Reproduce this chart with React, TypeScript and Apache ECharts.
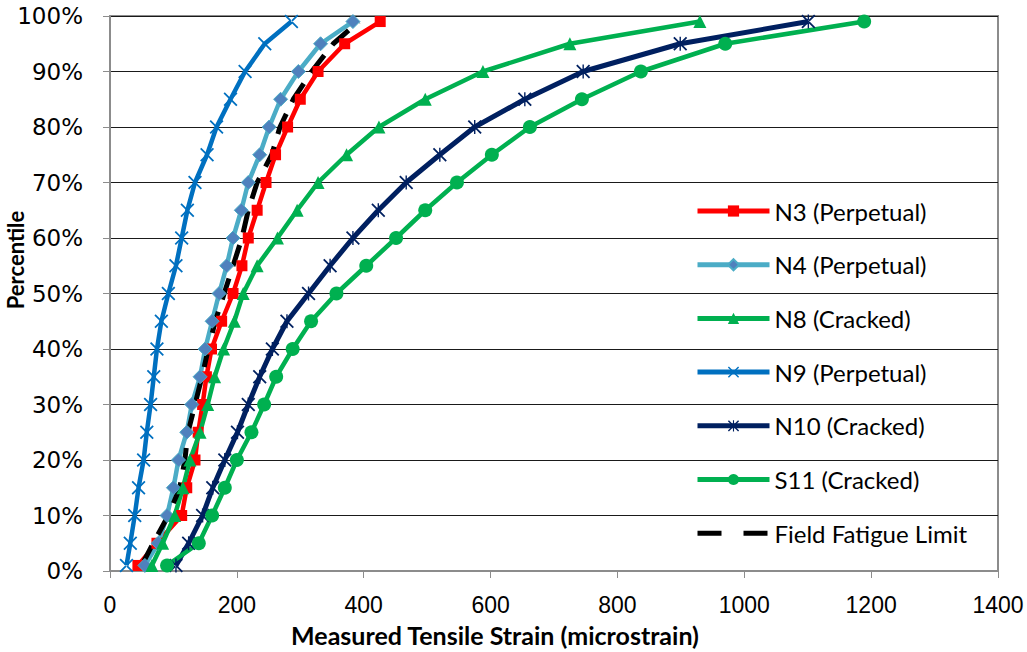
import React, { useEffect, useRef } from "react";
import * as echarts from "echarts";

// Percentile levels shared by every strain distribution
const percentiles = [1, 5, 10, 15, 20, 25, 30, 35, 40, 45, 50, 55, 60, 65, 70, 75, 80, 85, 90, 95, 99];

// Measured tensile strain (microstrain) at each percentile
const n3 = [44, 74, 113, 121, 134, 139, 146, 152, 160, 176, 194, 208, 218, 232, 246, 261, 280, 300, 328, 370, 426];
const n4 = [55, 76, 90, 100, 108, 121, 129, 142, 150, 161, 172, 184, 194, 207, 218, 236, 251, 269, 297, 332, 383];
const n8 = [66, 83, 102, 115, 126, 142, 154, 165, 179, 196, 210, 232, 264, 295, 328, 373, 424, 497, 588, 725, 930];
const n9 = [26, 32, 39, 45, 53, 58, 64, 69, 74, 81, 92, 104, 113, 122, 134, 153, 168, 190, 213, 244, 286];
const n10 = [104, 124, 146, 162, 181, 201, 218, 236, 256, 279, 313, 347, 383, 423, 467, 520, 575, 654, 746, 899, 1101];
const s11 = [90, 140, 161, 181, 200, 223, 243, 262, 288, 317, 357, 404, 451, 497, 547, 602, 662, 744, 837, 970, 1189];
const fieldFatigueLimit = [50, 68, 92, 110, 118, 123, 134, 145, 155, 166, 180, 194, 208, 218, 232, 255, 268, 289, 318, 352, 392];

const seriesNames = [
  "N3 (Perpetual)",
  "N4 (Perpetual)",
  "N8 (Cracked)",
  "N9 (Perpetual)",
  "N10 (Cracked)",
  "S11 (Cracked)",
  "Field Fatigue Limit",
];

const xTitle = "Measured Tensile Strain (microstrain)";
const yTitle = "Percentile";

const xTicks = { min: 0, max: 1400, interval: 200 };
const yTicks = { min: 0, max: 100, interval: 10 };

// Thin "x" marker and asterisk marker outlines
const crossSymbol =
  "path://M0,0.9 L0.9,0 L10,9.1 L9.1,10 Z M10,0.9 L9.1,0 L0,9.1 L0.9,10 Z";
const asteriskSymbol =
  "path://M0,0.9 L0.9,0 L10,9.1 L9.1,10 Z M10,0.9 L9.1,0 L0,9.1 L0.9,10 Z M4.5,0 L5.5,0 L5.5,10 L4.5,10 Z";

const toPoints = (xs: number[]) => xs.map((x, i) => [x, percentiles[i]]);

const TICK_FONT = "'DejaVu Sans', Arial, sans-serif";
const X_TICK_FONT = "'Liberation Sans', Arial, sans-serif";
const TEXT_FONT = "Lato, 'Noto Sans', sans-serif";

export default function App() {
  const ref = useRef<HTMLDivElement>(null);

  useEffect(() => {
    if (!ref.current) return;
    const chart = echarts.init(ref.current, undefined, { renderer: "svg" });

    const lineSeries = (
      name: string,
      data: number[],
      lineColor: string,
      symbol: string,
      symbolSize: number,
      markerColor: string,
      extra: any = {}
    ) => ({
      name,
      type: "line",
      data: toPoints(data),
      symbol,
      symbolSize,
      showSymbol: true,
      lineStyle: { color: lineColor, width: 4.5 },
      itemStyle: { color: markerColor },
      ...extra,
    });

    chart.setOption({
      animation: false,
      backgroundColor: "#ffffff",
      grid: {
        left: 110,
        right: 29,
        top: 16,
        bottom: 81,
        show: true,
        borderColor: "#8c8c8c",
        borderWidth: 2,
        backgroundColor: "transparent",
      },
      legend: {
        orient: "vertical",
        left: 690,
        top: 194,
        itemWidth: 72,
        itemHeight: 14,
        itemGap: 29.7,
        lineStyle: { width: 5 },
        data: [
          ...seriesNames.slice(0, 6),
          {
            name: seriesNames[6],
            itemStyle: { opacity: 0 },
            lineStyle: { type: [24, 22], width: 5, color: "#000000" },
          },
        ],
        textStyle: { fontFamily: TEXT_FONT, fontSize: 24, color: "#000" },
      },
      graphic: [
        {
          type: "text",
          x: 495,
          y: 635,
          style: {
            text: xTitle,
            fontFamily: TEXT_FONT,
            fontWeight: "bold",
            fontSize: 25,
            fill: "#000",
            textAlign: "center",
            textVerticalAlign: "middle",
          },
        },
        {
          type: "text",
          x: 15,
          y: 260,
          rotation: Math.PI / 2,
          style: {
            text: yTitle,
            fontFamily: TEXT_FONT,
            fontWeight: "bold",
            fontSize: 22,
            fill: "#000",
            textAlign: "center",
            textVerticalAlign: "middle",
          },
        },
      ],
      xAxis: {
        type: "value",
        ...xTicks,
        axisLine: { show: true, lineStyle: { color: "#8c8c8c", width: 2 } },
        axisTick: { show: true, length: 7, lineStyle: { color: "#8c8c8c", width: 1 } },
        axisLabel: {
          fontFamily: X_TICK_FONT,
          fontSize: 23,
          color: "#000",
          margin: 22,
          formatter: (v: number) => String(v),
        },
        splitLine: { show: false },
      },
      yAxis: {
        type: "value",
        ...yTicks,
        axisLine: { show: true, lineStyle: { color: "#8c8c8c", width: 2 } },
        axisTick: { show: true, length: 7, lineStyle: { color: "#8c8c8c", width: 1 } },
        axisLabel: {
          fontFamily: TICK_FONT,
          fontSize: 23,
          color: "#000",
          margin: 27,
          formatter: "{value}%",
        },
        splitLine: { show: true, lineStyle: { color: "#1a1a1a", width: 1 } },
      },
      series: [
        lineSeries(seriesNames[0], n3, "#ff0000", "rect", 11, "#ff0000"),
        lineSeries(seriesNames[1], n4, "#4bacc6", "diamond", 14, "#4f81bd", {
          itemStyle: { color: "#4f81bd", borderColor: "#4bacc6", borderWidth: 1 },
        }),
        lineSeries(seriesNames[2], n8, "#00b050", "triangle", 13, "#00b050"),
        lineSeries(seriesNames[3], n9, "#0070c0", crossSymbol, 14, "#0070c0"),
        lineSeries(seriesNames[4], n10, "#002060", asteriskSymbol, 14, "#002060", {
          lineStyle: { color: "#002060", width: 5 },
        }),
        lineSeries(seriesNames[5], s11, "#00b050", "circle", 14, "#00b050"),
        {
          name: seriesNames[6],
          type: "line",
          data: toPoints(fieldFatigueLimit),
          symbol: "none",
          lineStyle: { color: "#000000", width: 5, type: [22, 13] },
          itemStyle: { color: "#000000" },
        },
      ],
    });

    return () => chart.dispose();
  }, []);

  return (
    <div
      ref={ref}
      style={{ position: "absolute", left: 0, top: 0, width: 1027, height: 652 }}
    />
  );
}
